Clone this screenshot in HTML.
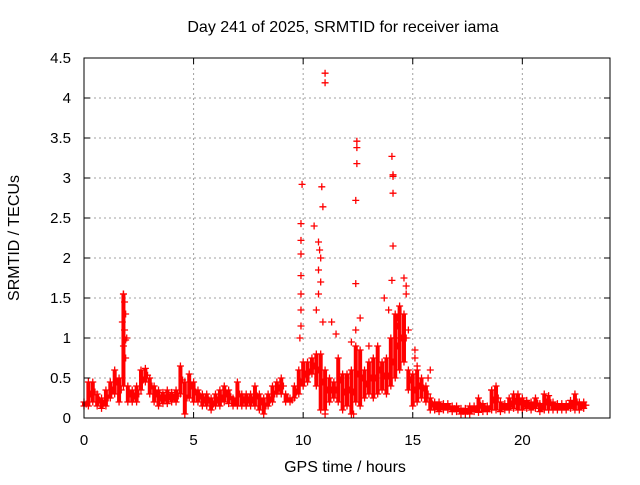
<!DOCTYPE html>
<html><head><meta charset="utf-8"><style>
body{margin:0;background:#fff;width:640px;height:480px;overflow:hidden}
svg text{font-family:"Liberation Sans",sans-serif;font-size:15px;fill:#000}
svg text.big{font-size:16px}
</style></head><body>
<svg id="chart" width="640" height="480" viewBox="0 0 640 480" xmlns="http://www.w3.org/2000/svg">
<text class="big" x="343" y="32" text-anchor="middle">Day 241 of 2025, SRMTID for receiver iama</text>
<text class="big" x="345" y="472" text-anchor="middle">GPS time / hours</text>
<text class="big" transform="translate(19,238) rotate(-90)" text-anchor="middle">SRMTID / TECUs</text>
<g id="grid"></g><g id="marks"></g><g id="axes"></g>
</svg>
<script>
const xTicks=[0,5,10,15,20];
const yTicks=[0,0.5,1,1.5,2,2.5,3,3.5,4,4.5];
const yTickLabels=["0","0.5","1","1.5","2","2.5","3","3.5","4","4.5"];
const bandStart=0, bandStep=0.2;
const bandLo=[.15,.15,.2,.15,.12,.15,.25,.3,.2,.4,.2,.2,.2,.35,.45,.3,.2,.15,.18,.18,.2,.2,.3,.05,.25,.2,.2,.15,.15,.1,.15,.15,.2,.18,.15,.15,.15,.15,.15,.15,.1,.05,.15,.2,.3,.3,.2,.2,.25,.3,.4,.45,.55,.4,.1,.1,.2,.25,.2,.1,.15,.05,.2,.15,.25,.3,.25,.3,.35,.3,.4,.5,.6,.7,.35,.15,.2,.25,.2,.1,.1,.08,.1,.1,.08,.08,.05,.05,.05,.08,.07,.08,.08,.1,.1,.08,.1,.1,.12,.1,.1,.12,.1,.12,.08,.1,.1,.1,.1,.1,.1,.12,.1,.1,.12];
const bandHi=[.2,.45,.45,.3,.25,.35,.45,.6,.5,1.55,.4,.35,.4,.6,.62,.5,.4,.35,.32,.35,.32,.35,.65,.45,.55,.45,.35,.3,.3,.25,.3,.35,.4,.35,.25,.45,.3,.3,.3,.4,.3,.25,.3,.4,.45,.5,.3,.25,.4,.6,.7,.7,.75,.8,.8,.6,.5,.45,.75,.55,.55,.6,.9,.85,.6,.7,.75,.9,.7,.75,1.0,1.3,1.4,1.3,.6,.55,.6,.5,.4,.25,.2,.2,.18,.18,.15,.15,.12,.12,.15,.15,.25,.18,.15,.35,.4,.2,.18,.25,.3,.3,.25,.22,.2,.25,.18,.3,.28,.2,.18,.18,.18,.22,.3,.2,.2];
const outT=[11.0,11.0,9.95,10.85,10.9,9.9,10.5,9.9,9.9,9.9,9.9,9.9,9.9,9.85,10.7,10.75,10.8,10.7,10.8,10.7,10.9,10.6,12.45,12.45,12.45,12.4,12.4,14.05,14.1,14.1,14.1,14.1,14.05,13.7,14.6,14.7,14.7,11.3,11.5,12.6,12.4,13.9,14.3,12.2,13.0,15.1,15.1,15.2,15.7,15.8,18.6,1.8,1.85,1.9,1.85,1.8,1.9,11.0,12.3,14.2,14.8,14.3,1.75,1.95];
const outV=[4.31,4.19,2.92,2.89,2.64,2.43,2.4,2.22,2.05,1.78,1.55,1.35,1.15,1.0,2.2,2.1,2.0,1.85,1.7,1.55,1.2,1.35,3.46,3.38,3.18,2.72,1.68,3.27,3.04,3.02,2.81,2.15,1.72,1.5,1.75,1.65,1.55,1.2,1.05,1.25,1.1,1.35,1.15,.95,.9,.85,.75,.65,.5,.6,.35,1.55,1.45,1.3,1.1,.9,.75,.05,.05,1.0,1.1,1.25,1.2,1.0];
const L=84,R=610,T=58,B=418,XMAX=24,YMAX=4.5;
const X=t=>L+(R-L)*t/XMAX, Y=v=>B-(B-T)*v/YMAX;
const NS="http://www.w3.org/2000/svg";
function mk(tag,attrs,parent){const e=document.createElementNS(NS,tag);for(const k in attrs)e.setAttribute(k,attrs[k]);parent.appendChild(e);return e;}
const grid=document.getElementById('grid'),marks=document.getElementById('marks'),axes=document.getElementById('axes');
yTicks.forEach((v,i)=>{
 if(v>0&&v<YMAX){const g=mk('line',{x1:L,x2:R,y1:Y(v),y2:Y(v),stroke:'#a0a0a0','stroke-dasharray':'2,3','stroke-width':1},grid);
 
 }
 mk('line',{x1:L,x2:L+6,y1:Y(v),y2:Y(v),stroke:'#000'},axes);
 mk('line',{x1:R,x2:R-6,y1:Y(v),y2:Y(v),stroke:'#000'},axes);
 const t=mk('text',{x:L-13,y:Y(v)+5,'text-anchor':'end'},axes);t.textContent=yTickLabels[i];
 
 
});
xTicks.forEach(v=>{
 if(v>0){const g=mk('line',{x1:X(v),x2:X(v),y1:T,y2:B,stroke:'#a0a0a0','stroke-dasharray':'2,3','stroke-width':1},grid);
 
 }
 mk('line',{x1:X(v),x2:X(v),y1:B,y2:B-6,stroke:'#000'},axes);
 mk('line',{x1:X(v),x2:X(v),y1:T,y2:T+6,stroke:'#000'},axes);
 const t=mk('text',{x:X(v),y:B+27,'text-anchor':'middle'},axes);t.textContent=String(v);
 
 
});
const frame=mk('rect',{x:L,y:T,width:R-L,height:B-T,fill:'none',stroke:'#000','stroke-width':1},axes);


function plus(t,v){
 const x=X(t),y=Y(v);
 const p=mk('path',{d:`M${x-3.5},${y}h7M${x},${y-3.5}v7`,stroke:'#f00','stroke-width':1.3,fill:'none'},marks);
 
 
}
bandLo.forEach((lo,i)=>{
 const t=bandStart+i*bandStep, hi=bandHi[i];
 const b=mk('line',{x1:X(t),x2:X(t),y1:Y(lo),y2:Y(hi),stroke:'#f00','stroke-width':4},marks);
 
 
 plus(t,lo);plus(t,hi);plus(t+bandStep/2,(lo+hi)/2);
});
outT.forEach((t,i)=>plus(t,outV[i]));
</script>
</body></html>
